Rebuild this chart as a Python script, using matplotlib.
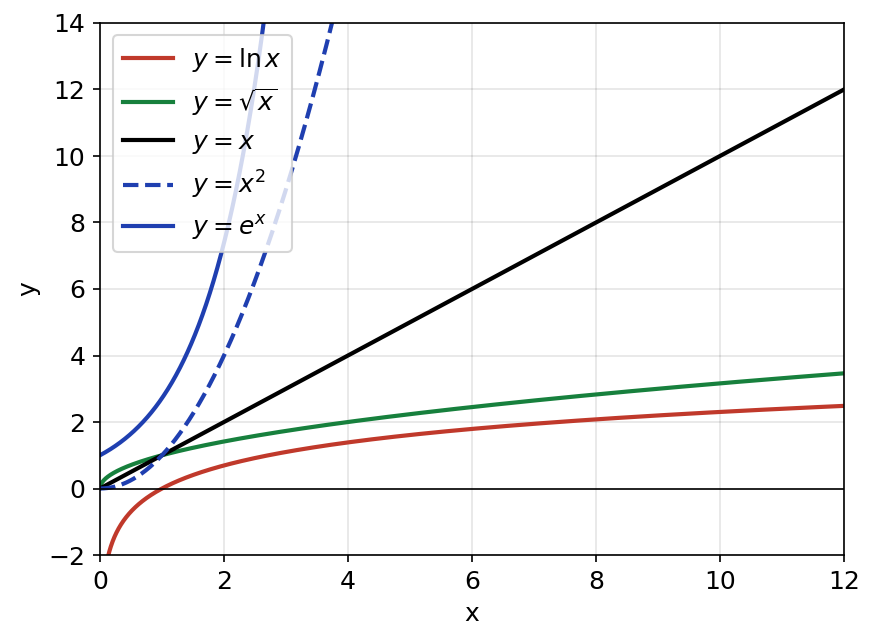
import numpy as np
import matplotlib
matplotlib.use("Agg")
import matplotlib.pyplot as plt

plt.rcParams["font.size"] = 12

x_min, x_max = 0.0, 12.0
y_min, y_max = -2.0, 14.0
xticks = [0, 2, 4, 6, 8, 10, 12]
yticks = [-2, 0, 2, 4, 6, 8, 10, 12, 14]
labels = [r"$y = \ln x$", r"$y = \sqrt{x}$", r"$y = x$", r"$y = x^2$", r"$y = e^x$"]
colors = ["#c0392b", "#17803d", "#000000", "#1f3fb0", "#1f3fb0"]
styles = ["-", "-", "-", "--", "-"]

x = np.linspace(0.001, 12, 2000)
series = [np.log(x), np.sqrt(x), x, x**2, np.exp(x)]

fig = plt.figure(figsize=(874/150, 643/150), dpi=150)
ax = fig.add_axes([100/874, 1-555/643, 744/874, 532/643])
for y, lab, c, ls in zip(series, labels, colors, styles):
    ax.plot(x, y, color=c, ls=ls, lw=2, label=lab)
ax.axhline(0, color="black", lw=0.8)
ax.set_xlim(x_min, x_max)
ax.set_ylim(y_min, y_max)
ax.set_xticks(xticks)
ax.set_yticks(yticks)
ax.grid(True, color="#000000", alpha=0.1, lw=0.8)
ax.set_xlabel("x")
ax.set_ylabel("y")
ax.legend(loc="upper left")
fig.savefig("out.png", dpi=150)
